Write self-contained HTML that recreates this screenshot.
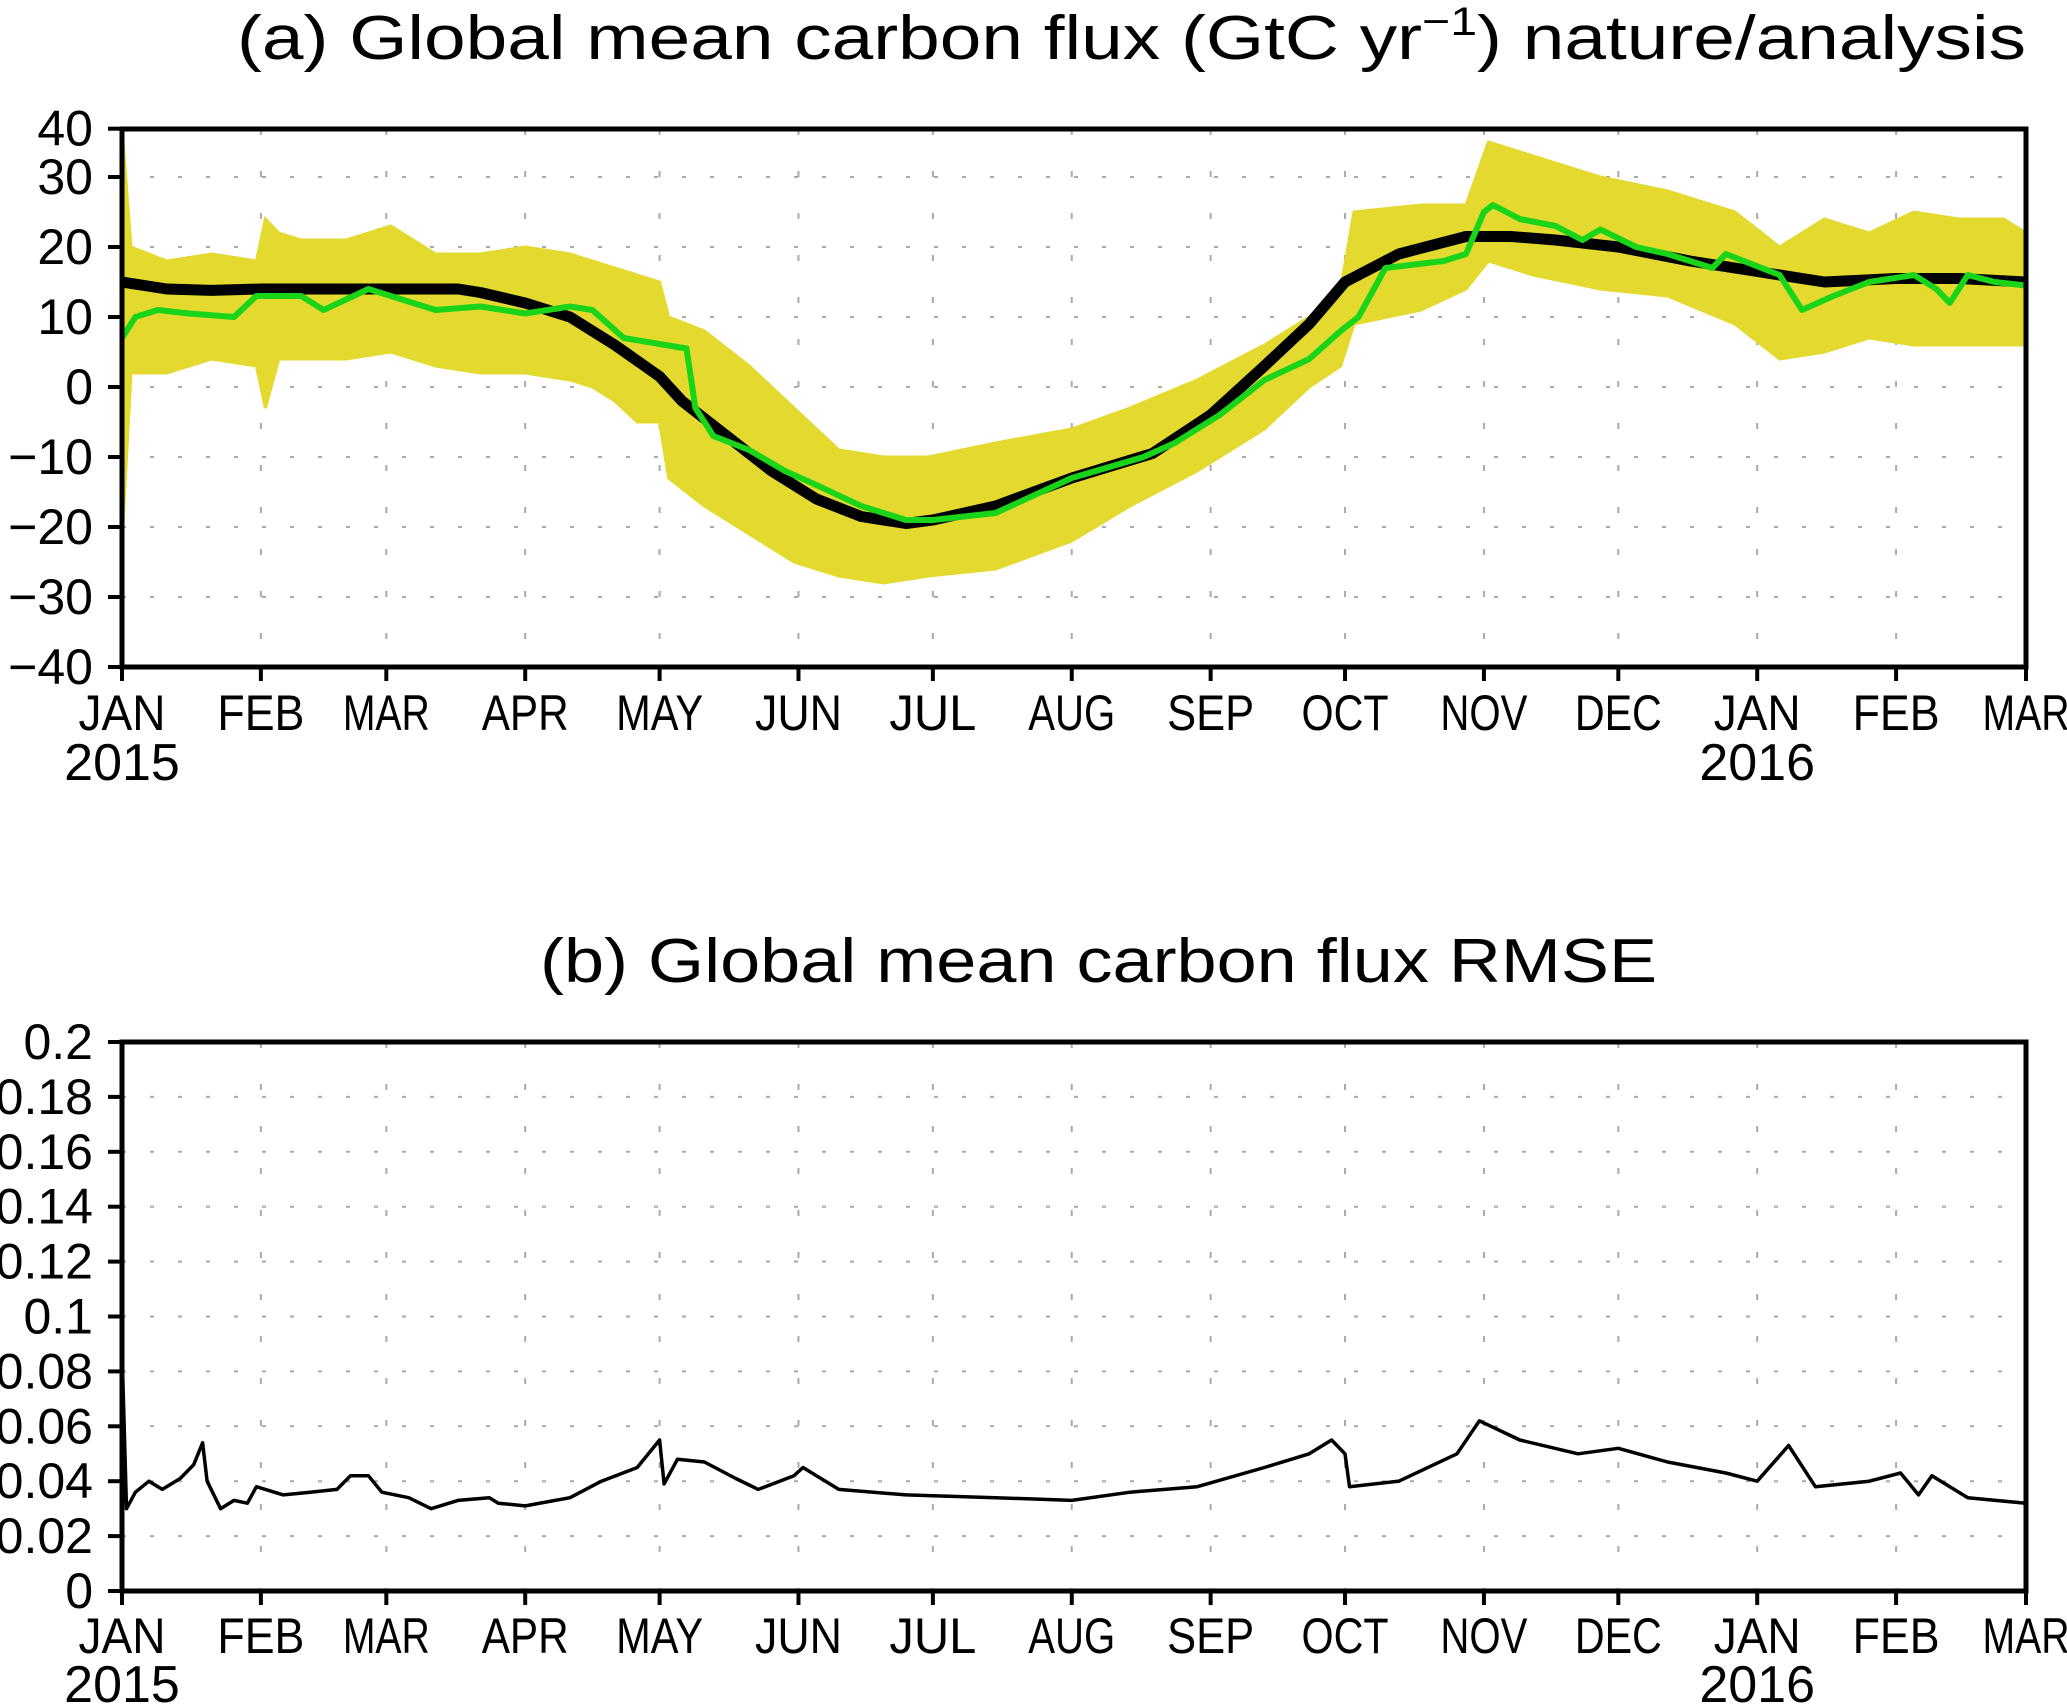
<!DOCTYPE html>
<html><head><meta charset="utf-8"><style>
html,body{margin:0;padding:0;background:#fff;}
svg{display:block;}
text{font-family:"Liberation Sans",sans-serif;fill:#000;}
</style></head><body>
<svg id="chart" width="2067" height="1705" viewBox="0 0 2067 1705" xmlns="http://www.w3.org/2000/svg">
<text x="237" y="59" font-size="62" textLength="1789" lengthAdjust="spacingAndGlyphs">(a) Global mean carbon flux (GtC yr<tspan dy="-24" font-size="40">−1</tspan><tspan dy="24">) nature/analysis</tspan></text>
<text x="540" y="982" font-size="62" textLength="1117" lengthAdjust="spacingAndGlyphs">(b) Global mean carbon flux RMSE</text>
<g id="pa"></g>
<g id="pb"></g>
</svg>
<script>
// ---- data ----
const monthLabels = ["JAN","FEB","MAR","APR","MAY","JUN","JUL","AUG","SEP","OCT","NOV","DEC","JAN","FEB","MAR"];
const monthDays = [0,31,59,90,120,151,181,212,243,273,304,334,365,396,425];
const yearLabels = ["2015","2016"];
const yearDays = [0,365];
const aTicks = [-40,-30,-20,-10,0,10,20,30,40];
const aTickLabels = ["−40","−30","−20","−10","0","10","20","30","40"];
const bTicks = [0,0.02,0.04,0.06,0.08,0.1,0.12,0.14,0.16,0.18,0.2];
const bTickLabels = ["0","0.02","0.04","0.06","0.08","0.1","0.12","0.14","0.16","0.18","0.2"];

const natureDays = [0,10,20,31,45,59,75,80,90,100,110,120,125,135,145,155,165,175,181,195,212,230,243,255,265,273,285,300,310,320,334,350,365,380,396,410,425];
const natureVals = [15,14,13.8,14,14,14,14,13.5,12,10,6,1.5,-2,-7,-12,-16,-18.5,-19.5,-19,-17,-13,-9.5,-4,3,9,15,19,21.5,21.5,21,20,18,16.5,15,15.5,15.5,15];

const analysisDays = [0,3,8,15,25,30,40,45,55,60,70,80,90,100,105,112,126,128,132,140,148,155,165,175,181,195,212,228,235,245,255,265,272,276,282,295,300,304,306,312,320,326,330,338,345,355,358,370,375,382,390,400,405,408,412,418,425];
const analysisVals = [7,10,11,10.5,10,13,13,11,14,13,11,11.5,10.5,11.5,11,7,5.5,-3,-7,-9,-12,-14,-17,-19,-19,-18,-13,-10,-8,-4,1,4,8,10,17,18,19,25,26,24,23,21,22.5,20,19,17,19,16,11,13,15,16,14,12,16,15,14.5];

const spreadDays = [0,2,10,20,30,32,35,40,50,60,70,80,90,100,105,110,115,120,122,130,140,150,160,170,180,195,212,225,240,255,265,272,275,290,300,305,315,330,345,360,370,380,390,400,410,420,425];
const spreadUpper = [37,20,18,19,18,24,22,21,21,23,19,19,20,19,18,17,16,15,10,8,3,-3,-9,-10,-10,-8,-6,-3,1,6,10,14,25,26,26,35,33,30,28,25,20,24,22,25,24,24,22];
const spreadLower = [-22,2,2,4,3,-3,4,4,4,5,3,2,2,1,0,-2,-5,-5,-13,-17,-21,-25,-27,-28,-27,-26,-22,-17,-12,-6,0,3,9,11,14,18,16,14,13,9,4,5,7,6,6,6,6];

const rmseDays = [0,1,3,6,9,13,16,18,19,22,25,28,30,36,42,48,51,55,58,64,69,75,82,84,90,100,107,115,120,121,124,130,137,142,150,152,160,175,195,212,225,240,255,265,270,273,274,285,298,303,312,325,334,345,358,365,372,378,390,397,401,404,412,425];
const rmseVals = [0.088,0.03,0.036,0.04,0.037,0.041,0.046,0.054,0.04,0.03,0.033,0.032,0.038,0.035,0.036,0.037,0.042,0.042,0.036,0.034,0.03,0.033,0.034,0.032,0.031,0.034,0.04,0.045,0.055,0.039,0.048,0.047,0.041,0.037,0.042,0.045,0.037,0.035,0.034,0.033,0.036,0.038,0.045,0.05,0.055,0.05,0.038,0.04,0.05,0.062,0.055,0.05,0.052,0.047,0.043,0.04,0.053,0.038,0.04,0.043,0.035,0.042,0.034,0.032];

// ---- geometry ----
const X0=122, X1=2026, DMAX=425;
const xs = d => X0 + d/DMAX*(X1-X0);
const A = {top:129, bot:667, vmin:-40, vtop:36.9};
const ya = v => { v=Math.min(v,A.vtop); return A.bot - (v-A.vmin)*7.0; };
const B = {top:1042, bot:1591};
const yb = v => B.bot - v/0.2*(B.bot-B.top);
const NS="http://www.w3.org/2000/svg";
function mk(tag, attrs, parent){ const e=document.createElementNS(NS,tag); for(const k in attrs) e.setAttribute(k,attrs[k]); parent.appendChild(e); return e; }

function axesFrame(g, top, bot, ticks, labels, yfn, monthY, yearY, prefix){
  ticks.forEach((t,i)=>{ const y=yfn(t); if(y>top+2 && y<bot-2){
    const l=mk('line',{x1:X0,x2:X1,y1:y,y2:y,stroke:'#aaa','stroke-width':2,'stroke-dasharray':'4 24'},g);
    
     }});
  monthDays.forEach(d=>{ const x=xs(d); if(x>X0+2 && x<X1-2){
    const l=mk('line',{x1:x,x2:x,y1:top,y2:bot,stroke:'#aaa','stroke-width':2,'stroke-dasharray':'6 36'},g);
    
     }});
  ticks.forEach((t,i)=>{ const y=yfn(t);
    const tk=mk('line',{x1:X0-14,x2:X0,y1:y,y2:y,stroke:'#000','stroke-width':4},g);
    
    
    const tx=mk('text',{x:93,y:y+17,'font-size':50,'text-anchor':'end'},g);
    tx.textContent=labels[i];
    
    
  });
  monthDays.forEach((d,i)=>{ const x=xs(d);
    const tk=mk('line',{x1:x,x2:x,y1:bot,y2:bot+14,stroke:'#000','stroke-width':4},g);
    
    
    const tx=mk('text',{x:x,y:monthY,'font-size':50,'text-anchor':'middle',textLength:monthLabels[i].length*29,lengthAdjust:'spacingAndGlyphs'},g);
    tx.textContent=monthLabels[i];
    
    
  });
  yearDays.forEach((d,i)=>{
    const tx=mk('text',{x:xs(d),y:yearY,'font-size':52,'text-anchor':'middle'},g);
    tx.textContent=yearLabels[i];
    
    
  });
}
function frame(g, top, bot, prefix){
  const f=mk('rect',{x:X0,y:top,width:X1-X0,height:bot-top,fill:'none',stroke:'#000','stroke-width':5},g);
  
  
}

function pathOf(days, vals, yfn){ return days.map((d,i)=>(i?'L':'M')+xs(d).toFixed(1)+' '+yfn(vals[i]).toFixed(1)).join(' '); }

// Panel A
const pa=document.getElementById('pa');
axesFrame(pa, A.top, A.bot, aTicks, aTickLabels, ya, 730, 780, 'panel-a');
let bandD='M'+spreadDays.map((d,i)=>xs(d).toFixed(1)+' '+ya(spreadUpper[i]).toFixed(1)).join(' L');
for(let i=spreadDays.length-1;i>=0;i--) bandD+=' L'+xs(spreadDays[i]).toFixed(1)+' '+ya(spreadLower[i]).toFixed(1);
bandD+=' Z';
const band=mk('path',{d:bandD,fill:'#e4d92e',stroke:'#e4d92e','stroke-width':3},pa);


const nat=mk('path',{d:pathOf(natureDays,natureVals,ya),fill:'none',stroke:'#000','stroke-width':11,'stroke-linejoin':'round'},pa);


const ana=mk('path',{d:pathOf(analysisDays,analysisVals,ya),fill:'none',stroke:'#1ad41a','stroke-width':6,'stroke-linejoin':'round'},pa);


frame(pa, A.top, A.bot, 'panel-a');

// Panel B
const pb=document.getElementById('pb');
axesFrame(pb, B.top, B.bot, bTicks, bTickLabels, yb, 1653, 1702, 'panel-b');
const rm=mk('path',{d:pathOf(rmseDays,rmseVals,yb),fill:'none',stroke:'#000','stroke-width':3.5,'stroke-linejoin':'round'},pb);


frame(pb, B.top, B.bot, 'panel-b');
</script>
</body></html>
